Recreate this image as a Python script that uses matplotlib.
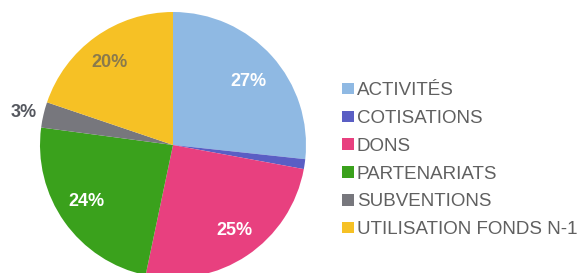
import numpy as np
import matplotlib.pyplot as plt
from matplotlib.patches import Patch

categories = ['ACTIVITÉS', 'COTISATIONS', 'DONS', 'PARTENARIATS', 'SUBVENTIONS', 'UTILISATION FONDS N-1']
values = [26.7, 1.2, 25.4, 23.8, 3.1, 19.8]
pct_labels = ['27%', '', '25%', '24%', '3%', '20%']
colors = ['#8fb9e3', '#5a5ec4', '#e8407f', '#3aa11c', '#77777d', '#f6c125']

# label placement (radius fraction, angle shift in degrees) and colour
lab_r = [0.74, 0.0, 0.79, 0.78, 1.15, 0.78]
lab_shift = [-2, 0, 2, -2, 1, 2]
lab_col = ['white', 'white', 'white', 'white', '#55585f', '#8a7a4c']

W, H = 587, 273
cx, cy, R = 173, 128, 133

fig = plt.figure(figsize=(W/100, H/100), dpi=100)
ax = fig.add_axes([0, 0, 1, 1])
wedges, _ = ax.pie(values, colors=colors, startangle=90, counterclock=False,
                   center=(cx, cy), radius=R, wedgeprops=dict(linewidth=0))
ax.set_xlim(0, W)
ax.set_ylim(0, H)
ax.set_aspect('equal')
ax.axis('off')

for w, lab, r, sh, c in zip(wedges, pct_labels, lab_r, lab_shift, lab_col):
    if not lab:
        continue
    th = np.deg2rad((w.theta1 + w.theta2) / 2 + sh)
    ax.text(cx + r*R*np.cos(th), cy + r*R*np.sin(th), lab, ha='center', va='center',
            fontsize=13, fontweight='bold', color=c, family='Liberation Sans')

handles = [Patch(facecolor=c, edgecolor='none') for c in colors]
fig.legend(handles, categories, loc='upper left', bbox_to_anchor=(342/W, 1 - 82/H),
           frameon=False, handlelength=0.65, handleheight=0.55,
           handletextpad=0.15, labelspacing=0.58, borderpad=0, borderaxespad=0,
           labelcolor='#606060', prop={'family': 'Liberation Sans', 'size': 13.5})

fig.savefig('out.png', dpi=100)
